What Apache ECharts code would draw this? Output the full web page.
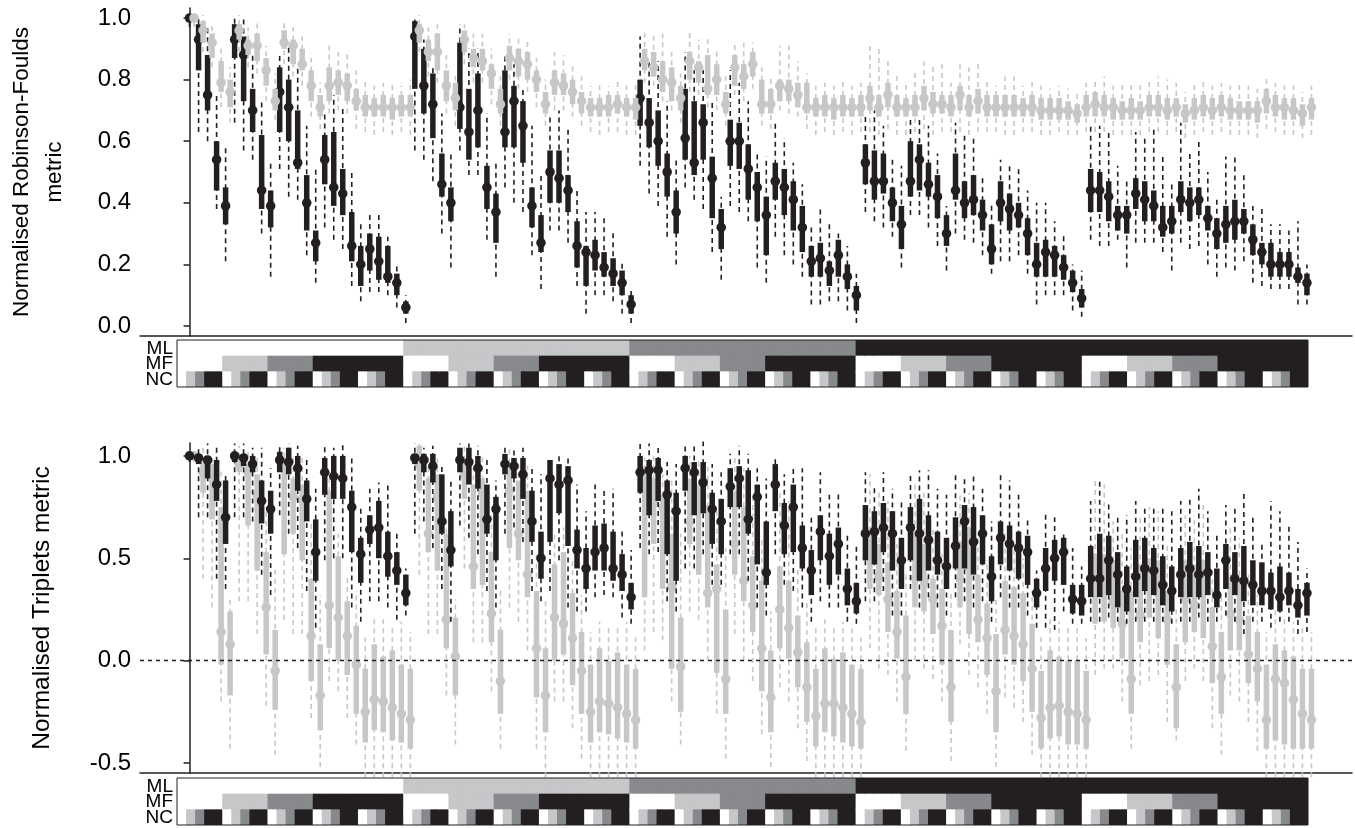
<!DOCTYPE html>
<html>
<head>
<meta charset="utf-8">
<script src="https://cdn.jsdelivr.net/npm/echarts@6/dist/echarts.min.js"></script>
<style>
  html, body { margin: 0; padding: 0; background: #fff; }
  #chart { width: 1355px; height: 828px; }
</style>
</head>
<body>
<div id="chart"></div>
<script>
// each glyph: [lo, q1, median, q3, hi]
const rfBlack = [
  [0.97,0.99,1.00,1.00,1.01],[0.63,0.83,0.93,0.98,1.00],[0.60,0.70,0.75,0.88,0.97],[0.38,0.44,0.54,0.60,0.76],[0.21,0.33,0.39,0.45,0.58],
  [0.66,0.87,0.93,0.98,1.00],[0.57,0.73,0.88,0.94,1.00],[0.54,0.63,0.70,0.77,0.89],[0.30,0.38,0.44,0.62,0.73],[0.16,0.32,0.39,0.44,0.53],
  [0.51,0.63,0.76,0.84,0.89],[0.42,0.60,0.71,0.80,0.91],[0.41,0.51,0.53,0.70,0.84],[0.23,0.31,0.40,0.49,0.65],[0.14,0.21,0.27,0.31,0.51],
  [0.32,0.46,0.54,0.62,0.70],[0.28,0.39,0.45,0.63,0.75],[0.25,0.36,0.43,0.51,0.71],[0.13,0.21,0.26,0.37,0.50],[0.08,0.13,0.20,0.26,0.34],
  [0.11,0.18,0.25,0.30,0.36],[0.11,0.15,0.21,0.29,0.36],[0.10,0.14,0.16,0.26,0.29],[0.06,0.10,0.14,0.17,0.20],[0.01,0.04,0.06,0.08,0.10],
  [0.57,0.77,0.94,0.99,1.00],[0.54,0.69,0.78,0.90,0.93],[0.47,0.61,0.72,0.82,0.85],[0.30,0.42,0.46,0.56,0.69],[0.19,0.34,0.40,0.45,0.56],
  [0.57,0.64,0.71,0.92,0.98],[0.49,0.54,0.63,0.77,0.90],[0.49,0.58,0.70,0.82,0.90],[0.28,0.38,0.45,0.52,0.69],[0.16,0.27,0.37,0.43,0.53],
  [0.45,0.58,0.63,0.83,0.88],[0.40,0.58,0.73,0.78,0.85],[0.37,0.53,0.65,0.73,0.77],[0.23,0.32,0.39,0.45,0.65],[0.12,0.24,0.27,0.36,0.50],
  [0.31,0.40,0.50,0.57,0.69],[0.31,0.40,0.48,0.57,0.70],[0.27,0.37,0.44,0.49,0.65],[0.13,0.19,0.26,0.34,0.45],[0.04,0.13,0.24,0.26,0.37],
  [0.10,0.18,0.23,0.28,0.37],[0.10,0.16,0.19,0.24,0.36],[0.08,0.13,0.17,0.22,0.31],[0.04,0.10,0.14,0.18,0.21],[0.01,0.04,0.07,0.10,0.12],
  [0.52,0.65,0.74,0.80,0.94],[0.43,0.58,0.66,0.74,0.86],[0.39,0.52,0.60,0.70,0.86],[0.29,0.42,0.50,0.56,0.73],[0.20,0.30,0.37,0.44,0.55],
  [0.45,0.54,0.61,0.77,0.89],[0.41,0.49,0.53,0.73,0.83],[0.38,0.54,0.66,0.72,0.83],[0.24,0.35,0.48,0.55,0.73],[0.15,0.25,0.32,0.38,0.42],
  [0.39,0.52,0.60,0.67,0.83],[0.37,0.51,0.60,0.66,0.79],[0.34,0.41,0.51,0.59,0.73],[0.19,0.34,0.45,0.50,0.57],[0.14,0.23,0.36,0.42,0.55],
  [0.29,0.41,0.47,0.53,0.67],[0.23,0.36,0.45,0.51,0.61],[0.20,0.31,0.41,0.47,0.53],[0.16,0.24,0.32,0.39,0.46],[0.07,0.16,0.21,0.26,0.33],
  [0.07,0.16,0.22,0.27,0.38],[0.08,0.13,0.18,0.21,0.34],[0.08,0.16,0.23,0.28,0.30],[0.05,0.12,0.16,0.20,0.26],[0.01,0.05,0.10,0.13,0.17],
  [0.37,0.46,0.53,0.59,0.69],[0.34,0.41,0.47,0.57,0.70],[0.32,0.43,0.47,0.56,0.65],[0.29,0.34,0.40,0.45,0.55],[0.19,0.25,0.33,0.39,0.52],
  [0.36,0.42,0.47,0.60,0.68],[0.36,0.44,0.54,0.59,0.68],[0.32,0.42,0.46,0.53,0.65],[0.26,0.35,0.42,0.49,0.56],[0.18,0.26,0.30,0.36,0.39],
  [0.30,0.41,0.44,0.56,0.66],[0.28,0.35,0.40,0.47,0.62],[0.27,0.36,0.41,0.49,0.62],[0.23,0.31,0.36,0.41,0.49],[0.17,0.20,0.25,0.33,0.40],
  [0.21,0.34,0.40,0.47,0.54],[0.21,0.31,0.38,0.43,0.53],[0.23,0.32,0.36,0.40,0.52],[0.17,0.23,0.30,0.35,0.44],[0.07,0.16,0.20,0.27,0.40],
  [0.10,0.16,0.24,0.28,0.40],[0.10,0.16,0.23,0.26,0.34],[0.10,0.15,0.19,0.23,0.30],[0.05,0.11,0.14,0.18,0.20],[0.03,0.06,0.09,0.12,0.18],
  [0.28,0.37,0.44,0.51,0.66],[0.26,0.37,0.44,0.50,0.65],[0.26,0.34,0.42,0.47,0.63],[0.28,0.31,0.36,0.39,0.52],[0.19,0.30,0.36,0.39,0.47],
  [0.27,0.38,0.43,0.48,0.63],[0.27,0.34,0.41,0.47,0.62],[0.27,0.34,0.39,0.44,0.64],[0.24,0.29,0.32,0.39,0.56],[0.18,0.30,0.34,0.39,0.47],
  [0.27,0.37,0.41,0.47,0.66],[0.25,0.34,0.40,0.45,0.57],[0.26,0.36,0.41,0.45,0.60],[0.20,0.31,0.35,0.39,0.50],[0.16,0.25,0.30,0.35,0.42],
  [0.19,0.27,0.33,0.39,0.55],[0.18,0.28,0.34,0.41,0.55],[0.21,0.30,0.34,0.38,0.50],[0.14,0.23,0.28,0.33,0.39],[0.13,0.20,0.24,0.27,0.38],
  [0.12,0.16,0.20,0.27,0.33],[0.12,0.16,0.20,0.24,0.33],[0.12,0.16,0.20,0.24,0.31],[0.07,0.14,0.16,0.19,0.34],[0.07,0.10,0.14,0.17,0.20]
];

const rfGrey = [
  [0.97,0.99,1.00,1.00,1.01],[0.89,0.92,0.96,0.99,1.01],[0.84,0.87,0.92,0.95,0.98],[0.71,0.76,0.79,0.86,0.90],[0.66,0.71,0.76,0.80,0.84],
  [0.89,0.93,0.96,0.98,1.01],[0.84,0.88,0.91,0.93,0.97],[0.82,0.86,0.91,0.95,0.99],[0.73,0.78,0.83,0.87,0.91],[0.67,0.70,0.73,0.77,0.82],
  [0.85,0.90,0.92,0.96,0.99],[0.81,0.85,0.91,0.93,0.97],[0.78,0.83,0.85,0.90,0.94],[0.68,0.73,0.78,0.83,0.87],[0.64,0.68,0.71,0.75,0.79],
  [0.69,0.73,0.78,0.84,0.91],[0.70,0.75,0.79,0.83,0.89],[0.69,0.73,0.78,0.82,0.89],[0.64,0.70,0.73,0.77,0.83],[0.63,0.68,0.71,0.75,0.80],
  [0.62,0.68,0.71,0.74,0.78],[0.63,0.68,0.71,0.75,0.79],[0.62,0.67,0.71,0.74,0.79],[0.63,0.68,0.71,0.75,0.78],[0.62,0.68,0.71,0.75,0.80],
  [0.89,0.92,0.96,0.98,1.01],[0.81,0.86,0.89,0.93,0.97],[0.79,0.83,0.89,0.95,0.98],[0.69,0.73,0.78,0.83,0.88],[0.65,0.70,0.74,0.79,0.82],
  [0.85,0.89,0.93,0.96,0.98],[0.79,0.84,0.87,0.90,0.95],[0.79,0.83,0.86,0.90,0.95],[0.72,0.77,0.82,0.85,0.90],[0.65,0.69,0.72,0.77,0.81],
  [0.80,0.83,0.87,0.91,0.95],[0.77,0.81,0.86,0.90,0.94],[0.76,0.80,0.85,0.89,0.93],[0.71,0.76,0.80,0.83,0.87],[0.65,0.69,0.72,0.76,0.80],
  [0.70,0.75,0.79,0.83,0.89],[0.70,0.75,0.78,0.82,0.88],[0.68,0.72,0.76,0.80,0.85],[0.65,0.69,0.73,0.76,0.81],[0.63,0.68,0.71,0.74,0.78],
  [0.62,0.68,0.71,0.74,0.79],[0.63,0.68,0.71,0.75,0.78],[0.63,0.69,0.72,0.75,0.80],[0.62,0.68,0.71,0.74,0.78],[0.62,0.67,0.71,0.74,0.79],
  [0.79,0.83,0.86,0.90,0.96],[0.78,0.81,0.84,0.89,0.95],[0.73,0.76,0.80,0.86,0.95],[0.70,0.73,0.79,0.84,0.89],[0.66,0.70,0.74,0.78,0.82],
  [0.76,0.80,0.86,0.89,0.96],[0.75,0.79,0.84,0.86,0.93],[0.71,0.75,0.77,0.88,0.94],[0.70,0.75,0.80,0.85,0.90],[0.65,0.69,0.72,0.76,0.81],
  [0.75,0.78,0.84,0.88,0.92],[0.73,0.77,0.81,0.85,0.92],[0.77,0.81,0.85,0.89,0.92],[0.65,0.69,0.72,0.80,0.84],[0.64,0.69,0.72,0.77,0.81],
  [0.70,0.73,0.78,0.80,0.91],[0.69,0.73,0.77,0.80,0.91],[0.68,0.71,0.75,0.79,0.86],[0.64,0.69,0.71,0.79,0.82],[0.62,0.68,0.71,0.74,0.78],
  [0.63,0.68,0.71,0.75,0.79],[0.62,0.67,0.71,0.74,0.78],[0.63,0.68,0.71,0.75,0.80],[0.62,0.68,0.71,0.74,0.78],[0.63,0.68,0.71,0.75,0.79],
  [0.63,0.70,0.74,0.78,0.92],[0.62,0.68,0.71,0.75,0.90],[0.64,0.71,0.75,0.79,0.87],[0.62,0.68,0.71,0.75,0.82],[0.62,0.68,0.71,0.74,0.79],
  [0.63,0.68,0.71,0.75,0.83],[0.64,0.70,0.74,0.78,0.86],[0.62,0.69,0.72,0.76,0.85],[0.63,0.69,0.72,0.75,0.85],[0.63,0.68,0.71,0.75,0.79],
  [0.63,0.70,0.75,0.78,0.85],[0.62,0.68,0.71,0.75,0.84],[0.63,0.69,0.73,0.77,0.86],[0.63,0.68,0.71,0.75,0.80],[0.63,0.68,0.71,0.75,0.78],
  [0.62,0.68,0.71,0.75,0.81],[0.62,0.68,0.71,0.75,0.81],[0.63,0.68,0.71,0.74,0.78],[0.63,0.68,0.71,0.75,0.80],[0.62,0.67,0.70,0.74,0.78],
  [0.62,0.67,0.70,0.74,0.77],[0.63,0.67,0.70,0.74,0.78],[0.62,0.67,0.70,0.73,0.77],[0.62,0.66,0.69,0.72,0.76],[0.63,0.68,0.71,0.75,0.79],
  [0.63,0.68,0.72,0.76,0.80],[0.63,0.68,0.71,0.75,0.81],[0.62,0.67,0.71,0.74,0.78],[0.62,0.67,0.70,0.73,0.79],[0.62,0.67,0.70,0.74,0.79],
  [0.62,0.67,0.70,0.73,0.79],[0.63,0.68,0.71,0.75,0.80],[0.63,0.68,0.71,0.75,0.81],[0.62,0.67,0.70,0.74,0.80],[0.63,0.68,0.71,0.74,0.79],
  [0.61,0.66,0.69,0.72,0.76],[0.62,0.67,0.70,0.74,0.79],[0.63,0.68,0.71,0.75,0.80],[0.62,0.67,0.70,0.74,0.78],[0.63,0.68,0.71,0.75,0.79],
  [0.62,0.67,0.70,0.74,0.78],[0.62,0.67,0.70,0.73,0.79],[0.62,0.67,0.70,0.73,0.78],[0.61,0.66,0.70,0.73,0.77],[0.64,0.69,0.73,0.77,0.81],
  [0.63,0.68,0.71,0.75,0.79],[0.62,0.67,0.71,0.74,0.78],[0.62,0.67,0.70,0.74,0.78],[0.61,0.65,0.69,0.72,0.76],[0.62,0.67,0.71,0.74,0.78]
];

const tripBlack = [
  [0.97,0.99,1.00,1.00,1.01],[0.70,0.96,0.99,1.00,1.04],[0.70,0.89,0.98,1.00,1.06],[0.40,0.78,0.86,0.98,1.04],[0.35,0.57,0.70,0.88,0.92],
  [0.70,0.97,1.00,1.01,1.06],[0.70,0.95,0.99,1.00,1.06],[0.68,0.92,0.96,1.00,1.04],[0.42,0.67,0.78,0.88,1.04],[0.32,0.62,0.74,0.83,0.94],
  [0.71,0.92,0.98,1.02,1.06],[0.62,0.91,0.97,1.04,1.06],[0.55,0.83,0.94,1.00,1.05],[0.34,0.68,0.79,0.88,0.99],[0.16,0.39,0.53,0.69,0.84],
  [0.49,0.81,0.92,0.99,1.05],[0.50,0.79,0.90,1.00,1.04],[0.50,0.79,0.89,1.00,1.06],[0.26,0.53,0.75,0.83,0.99],[0.19,0.38,0.52,0.60,0.76],
  [0.29,0.57,0.64,0.71,0.84],[0.29,0.50,0.65,0.78,0.87],[0.26,0.41,0.51,0.63,0.86],[0.20,0.37,0.44,0.53,0.63],[0.22,0.27,0.33,0.42,0.45],
  [0.62,0.96,0.99,1.01,1.06],[0.68,0.92,0.98,1.01,1.04],[0.55,0.87,0.95,1.01,1.05],[0.35,0.62,0.68,0.91,0.96],[0.19,0.46,0.54,0.73,0.89],
  [0.66,0.92,0.98,1.04,1.06],[0.60,0.86,0.97,1.04,1.06],[0.52,0.84,0.94,1.00,1.05],[0.34,0.62,0.69,0.86,0.99],[0.26,0.49,0.74,0.80,0.88],
  [0.62,0.91,0.96,1.01,1.05],[0.65,0.89,0.95,0.99,1.04],[0.58,0.79,0.91,0.99,1.04],[0.34,0.58,0.68,0.83,0.94],[0.29,0.40,0.50,0.63,0.91],
  [0.34,0.58,0.89,0.98,1.00],[0.49,0.72,0.86,0.96,1.01],[0.26,0.56,0.88,0.95,0.99],[0.24,0.45,0.54,0.64,0.86],[0.24,0.35,0.45,0.55,0.73],
  [0.31,0.44,0.53,0.66,0.86],[0.32,0.44,0.55,0.67,0.84],[0.31,0.39,0.45,0.63,0.84],[0.21,0.34,0.42,0.52,0.65],[0.18,0.25,0.31,0.38,0.54],
  [0.55,0.82,0.92,1.00,1.06],[0.52,0.71,0.93,0.98,1.06],[0.53,0.78,0.93,0.99,1.05],[0.29,0.52,0.81,0.88,0.97],[0.24,0.39,0.73,0.82,0.96],
  [0.45,0.83,0.94,1.00,1.05],[0.45,0.71,0.92,0.97,1.05],[0.52,0.72,0.87,0.97,1.07],[0.37,0.57,0.74,0.82,0.96],[0.37,0.52,0.68,0.79,0.92],
  [0.52,0.75,0.85,0.94,1.01],[0.52,0.75,0.89,0.95,1.05],[0.39,0.62,0.69,0.93,1.01],[0.26,0.47,0.80,0.86,0.94],[0.22,0.37,0.43,0.68,0.89],
  [0.52,0.73,0.86,0.96,1.00],[0.37,0.52,0.66,0.77,0.91],[0.34,0.53,0.75,0.86,0.94],[0.26,0.45,0.55,0.66,0.94],[0.19,0.32,0.44,0.54,0.70],
  [0.29,0.49,0.63,0.71,0.92],[0.26,0.37,0.51,0.62,0.81],[0.26,0.42,0.57,0.65,0.83],[0.19,0.27,0.35,0.45,0.63],[0.18,0.23,0.29,0.38,0.57],
  [0.29,0.49,0.62,0.76,0.92],[0.29,0.47,0.63,0.73,0.86],[0.34,0.53,0.65,0.77,0.92],[0.22,0.44,0.62,0.73,0.84],[0.22,0.35,0.49,0.60,0.78],
  [0.35,0.49,0.65,0.75,0.91],[0.26,0.39,0.62,0.79,0.93],[0.31,0.44,0.59,0.71,0.93],[0.26,0.42,0.49,0.63,0.84],[0.22,0.35,0.46,0.60,0.81],
  [0.31,0.45,0.56,0.70,0.91],[0.29,0.45,0.68,0.76,0.90],[0.26,0.42,0.58,0.75,0.90],[0.29,0.47,0.62,0.71,0.84],[0.19,0.29,0.41,0.51,0.68],
  [0.31,0.47,0.60,0.68,0.91],[0.26,0.44,0.57,0.66,0.88],[0.26,0.40,0.55,0.63,0.81],[0.22,0.37,0.53,0.61,0.70],[0.16,0.26,0.33,0.40,0.44],
  [0.16,0.34,0.45,0.55,0.73],[0.15,0.39,0.50,0.59,0.70],[0.24,0.37,0.53,0.60,0.63],[0.18,0.23,0.30,0.37,0.55],[0.18,0.22,0.29,0.37,0.46],
  [0.19,0.31,0.40,0.56,0.78],[0.19,0.31,0.40,0.62,0.88],[0.21,0.32,0.49,0.61,0.78],[0.19,0.26,0.42,0.53,0.71],[0.18,0.24,0.35,0.46,0.71],
  [0.19,0.31,0.41,0.59,0.78],[0.19,0.34,0.45,0.60,0.76],[0.19,0.32,0.44,0.55,0.75],[0.19,0.27,0.37,0.51,0.75],[0.18,0.24,0.34,0.46,0.73],
  [0.19,0.31,0.42,0.55,0.78],[0.19,0.31,0.45,0.58,0.79],[0.21,0.31,0.42,0.56,0.84],[0.19,0.32,0.43,0.53,0.73],[0.19,0.26,0.32,0.45,0.62],
  [0.22,0.35,0.49,0.57,0.76],[0.19,0.32,0.40,0.53,0.75],[0.13,0.29,0.39,0.56,0.83],[0.19,0.27,0.37,0.49,0.70],[0.19,0.27,0.34,0.48,0.57],
  [0.16,0.25,0.34,0.43,0.78],[0.19,0.24,0.31,0.46,0.73],[0.19,0.27,0.34,0.43,0.66],[0.13,0.21,0.27,0.35,0.58],[0.14,0.22,0.33,0.38,0.45]
];

const tripGrey = [
  [0.97,0.99,1.00,1.00,1.01],[0.40,0.82,0.92,0.97,1.05],[0.26,0.69,0.89,0.96,1.00],[-0.20,-0.02,0.14,0.75,0.94],[-0.43,-0.17,0.08,0.24,0.30],
  [0.29,0.92,0.96,0.99,1.05],[0.29,0.66,0.92,0.96,1.04],[0.13,0.44,0.81,0.91,1.00],[-0.22,0.03,0.26,0.53,0.75],[-0.46,-0.24,-0.05,0.15,0.45],
  [0.20,0.52,0.94,0.99,1.04],[0.13,0.62,0.80,0.89,1.00],[0.13,0.49,0.79,0.86,0.99],[-0.28,-0.10,0.12,0.40,0.68],[-0.52,-0.34,-0.17,0.08,0.32],
  [-0.10,0.06,0.27,0.83,0.89],[-0.15,0.00,0.21,0.51,0.62],[-0.28,-0.07,0.12,0.29,0.42],[-0.41,-0.26,-0.02,0.17,0.34],[-0.57,-0.40,-0.25,-0.04,0.13],
  [-0.57,-0.34,-0.19,0.08,0.22],[-0.57,-0.35,-0.20,0.02,0.21],[-0.57,-0.39,-0.23,0.05,0.16],[-0.57,-0.40,-0.26,-0.02,0.19],[-0.57,-0.43,-0.29,-0.04,0.14],
  [0.42,0.83,0.96,1.05,1.06],[0.13,0.53,0.62,0.89,1.00],[0.13,0.44,0.80,0.91,1.00],[-0.17,0.06,0.20,0.62,0.70],[-0.41,-0.17,0.02,0.21,0.30],
  [0.45,0.79,0.91,0.97,1.05],[0.09,0.35,0.46,0.86,0.94],[0.09,0.37,0.82,0.89,1.00],[-0.15,0.09,0.23,0.53,0.71],[-0.43,-0.26,-0.10,0.15,0.34],
  [0.26,0.55,0.83,0.94,1.04],[0.19,0.49,0.62,0.88,0.97],[0.05,0.31,0.42,0.83,0.96],[-0.43,-0.18,0.06,0.34,0.53],[-0.57,-0.35,-0.17,0.06,0.29],
  [-0.20,0.00,0.21,0.47,0.62],[-0.20,0.03,0.18,0.53,0.65],[-0.33,-0.12,0.11,0.33,0.49],[-0.48,-0.26,-0.05,0.14,0.32],[-0.57,-0.40,-0.25,-0.02,0.14],
  [-0.57,-0.35,-0.20,0.06,0.19],[-0.57,-0.36,-0.21,0.00,0.16],[-0.57,-0.38,-0.23,0.04,0.16],[-0.57,-0.40,-0.26,-0.02,0.19],[-0.57,-0.43,-0.29,-0.04,0.13],
  [0.05,0.31,0.84,0.95,0.99],[0.14,0.57,0.77,0.89,1.00],[0.10,0.35,0.75,0.81,0.91],[-0.20,-0.04,0.36,0.62,0.88],[-0.41,-0.25,-0.03,0.21,0.62],
  [0.24,0.57,0.68,0.89,1.00],[0.20,0.42,0.79,0.86,0.99],[0.00,0.26,0.33,0.76,0.97],[-0.26,-0.06,0.35,0.47,0.75],[-0.48,-0.26,-0.09,0.25,0.55],
  [0.13,0.42,0.57,0.83,0.99],[0.00,0.29,0.39,0.75,0.94],[-0.10,0.14,0.27,0.51,0.81],[-0.36,-0.15,0.06,0.39,0.60],[-0.52,-0.35,-0.18,0.05,0.24],
  [-0.13,0.06,0.25,0.46,0.83],[-0.20,0.01,0.16,0.39,0.78],[-0.33,-0.13,0.04,0.22,0.45],[-0.49,-0.30,-0.13,0.09,0.29],[-0.57,-0.42,-0.27,-0.04,0.16],
  [-0.57,-0.35,-0.21,0.06,0.22],[-0.57,-0.37,-0.21,0.01,0.16],[-0.57,-0.40,-0.23,0.04,0.19],[-0.57,-0.42,-0.26,-0.02,0.18],[-0.57,-0.43,-0.30,-0.04,0.13],
  [0.06,0.35,0.54,0.65,0.91],[-0.04,0.32,0.41,0.57,0.84],[-0.07,0.14,0.30,0.48,0.78],[-0.20,0.01,0.14,0.34,0.57],[-0.44,-0.26,-0.08,0.22,0.42],
  [0.00,0.26,0.40,0.63,0.88],[-0.04,0.24,0.39,0.57,0.83],[-0.09,0.13,0.30,0.40,0.65],[-0.20,-0.02,0.17,0.35,0.52],[-0.49,-0.30,-0.13,0.15,0.34],
  [0.08,0.26,0.40,0.58,0.81],[-0.07,0.13,0.46,0.65,0.82],[-0.13,0.09,0.20,0.42,0.62],[-0.26,-0.07,0.11,0.28,0.49],[-0.52,-0.35,-0.15,0.13,0.31],
  [-0.18,0.03,0.15,0.39,0.62],[-0.23,-0.02,0.12,0.36,0.57],[-0.30,-0.10,0.08,0.33,0.50],[-0.46,-0.25,-0.04,0.18,0.34],[-0.57,-0.43,-0.28,-0.05,0.13],
  [-0.57,-0.38,-0.23,0.05,0.22],[-0.57,-0.37,-0.22,0.02,0.19],[-0.57,-0.41,-0.25,0.00,0.16],[-0.57,-0.41,-0.26,0.00,0.18],[-0.57,-0.43,-0.29,-0.05,0.11],
  [-0.07,0.18,0.37,0.52,0.89],[-0.04,0.19,0.35,0.52,0.86],[-0.04,0.16,0.29,0.49,0.68],[-0.20,0.01,0.18,0.34,0.62],[-0.43,-0.26,-0.09,0.34,0.55],
  [-0.12,0.09,0.22,0.47,0.70],[-0.10,0.21,0.36,0.50,0.75],[-0.07,0.11,0.33,0.49,0.73],[-0.30,-0.02,0.20,0.34,0.58],[-0.39,-0.33,-0.13,0.08,0.27],
  [-0.10,0.09,0.30,0.49,0.71],[-0.04,0.14,0.27,0.47,0.71],[-0.10,0.11,0.34,0.49,0.76],[-0.33,-0.11,0.07,0.26,0.44],[-0.46,-0.26,-0.08,0.14,0.32],
  [-0.17,0.05,0.23,0.41,0.66],[-0.20,0.05,0.20,0.39,0.60],[-0.30,-0.11,0.03,0.22,0.42],[-0.44,-0.20,-0.04,0.14,0.32],[-0.57,-0.43,-0.29,-0.02,0.14],
  [-0.57,-0.39,-0.09,0.08,0.26],[-0.57,-0.41,-0.11,0.05,0.22],[-0.57,-0.43,-0.19,0.02,0.19],[-0.57,-0.43,-0.26,-0.04,0.16],[-0.57,-0.43,-0.29,-0.04,0.14]
];

// factor levels for the design strip: 5 levels each, last two share a shade
const levelShade = [0, 1, 2, 3, 3];
const shadeColors = ['#ffffff', '#c6c7c9', '#88898c', '#231f20'];
const stripRows = ['ML', 'MF', 'NC'];

const rfTicks = [0, 0.2, 0.4, 0.6, 0.8, 1.0];
const tripTicks = [-0.5, 0, 0.5, 1.0];

const BLACK = '#231f20';
const GREY = '#c6c7c9';
const FONT = '"Liberation Sans", Arial, Helvetica, sans-serif';

const chart = echarts.init(document.getElementById('chart'));

const stripData = [];
for (let ml = 0; ml < 5; ml++) {
  for (let mf = 0; mf < 5; mf++) {
    for (let nc = 0; nc < 5; nc++) {
      const k = ml * 25 + mf * 5 + nc;
      stripData.push([k, 0, levelShade[ml]]);
      stripData.push([k, 1, levelShade[mf]]);
      stripData.push([k, 2, levelShade[nc]]);
    }
  }
}

const glyph = (color) => (params, api) => {
  const x = api.value(0);
  const lo = api.coord([x, api.value(1)]);
  const q1 = api.coord([x, api.value(2)]);
  const md = api.coord([x, api.value(3)]);
  const q3 = api.coord([x, api.value(4)]);
  const hi = api.coord([x, api.value(5)]);
  return {
    type: 'group',
    children: [
      { type: 'line', shape: { x1: lo[0], y1: lo[1], x2: hi[0], y2: hi[1] },
        style: { stroke: color, lineWidth: 1.6, lineDash: [5, 4] } },
      { type: 'line', shape: { x1: q1[0], y1: q1[1], x2: q3[0], y2: q3[1] },
        style: { stroke: color, lineWidth: 5.5 } },
      { type: 'circle', shape: { cx: md[0], cy: md[1], r: 4.8 },
        style: { fill: color } }
    ]
  };
};

const stripCell = (params, api) => {
  const k = api.value(0);
  const row = api.value(1);
  const p0 = api.coord([k, row]);
  const p1 = api.coord([k + 1, row]);
  const h = api.size([1, 1])[1];
  const last = k === 124;
  return {
    type: 'rect',
    shape: { x: p0[0], y: p0[1] - h / 2, width: p1[0] - p0[0] + (last ? 0 : 1), height: h + (row < 2 ? 1 : 0) },
    style: { fill: shadeColors[api.value(2)] }
  };
};

const valueAxisX = (gridIndex) => ({
  type: 'value', gridIndex, min: -5.5, max: 129,
  axisLine: { show: true, onZero: false, lineStyle: { color: BLACK, width: 1.5 } },
  axisTick: { show: false }, axisLabel: { show: false }, splitLine: { show: false }
});

const stripAxisX = (gridIndex) => ({
  type: 'value', gridIndex, min: 0, max: 125,
  axisLine: { show: false }, axisTick: { show: false }, axisLabel: { show: false }, splitLine: { show: false }
});

const yAxisCommon = {
  type: 'value',
  axisLine: { show: true, lineStyle: { color: BLACK, width: 1.5 } },
  axisTick: { show: true, length: 6, lineStyle: { color: BLACK, width: 1.5 } },
  axisLabel: { color: '#000', fontSize: 24, fontFamily: FONT, margin: 9,
    formatter: (v) => v.toFixed(1) },
  splitLine: { show: false }
};

const grids = [
  { left: 140, top: 8, width: 1212, height: 328 },
  { left: 177, top: 340, width: 1131, height: 47, show: true, z: 10,
    borderColor: BLACK, borderWidth: 1, backgroundColor: 'transparent' },
  { left: 140, top: 443, width: 1212, height: 330 },
  { left: 177, top: 778, width: 1131, height: 47, show: true, z: 10,
    borderColor: BLACK, borderWidth: 1, backgroundColor: 'transparent' }
];

const option = {
  backgroundColor: '#fff',
  animation: false,
  grid: grids,
  xAxis: [valueAxisX(0), stripAxisX(1), valueAxisX(2), stripAxisX(3)],
  yAxis: [
    Object.assign({}, yAxisCommon, { gridIndex: 0, min: -0.0325, max: 1.0325,
      axisTick: Object.assign({}, yAxisCommon.axisTick, { customValues: rfTicks }),
      axisLabel: Object.assign({}, yAxisCommon.axisLabel, { customValues: rfTicks }) }),
    { type: 'category', gridIndex: 1, data: stripRows, inverse: true,
      axisLine: { show: false }, axisTick: { show: false }, axisLabel: { show: false } },
    Object.assign({}, yAxisCommon, { gridIndex: 2, min: -0.549, max: 1.063,
      axisTick: Object.assign({}, yAxisCommon.axisTick, { customValues: tripTicks }),
      axisLabel: Object.assign({}, yAxisCommon.axisLabel, { customValues: tripTicks }) }),
    { type: 'category', gridIndex: 3, data: stripRows, inverse: true,
      axisLine: { show: false }, axisTick: { show: false }, axisLabel: { show: false } }
  ],
  series: [
    { type: 'custom', name: 'rf-black', xAxisIndex: 0, yAxisIndex: 0, z: 3,
      renderItem: glyph(BLACK), encode: { x: 0, y: [1, 2, 3, 4, 5] },
      data: rfBlack.map((d, i) => [i].concat(d)) },
    { type: 'custom', name: 'rf-grey', xAxisIndex: 0, yAxisIndex: 0, z: 4,
      renderItem: glyph(GREY), encode: { x: 0, y: [1, 2, 3, 4, 5] },
      data: rfGrey.map((d, i) => [i + 0.5].concat(d)) },
    { type: 'custom', name: 'strip-top', xAxisIndex: 1, yAxisIndex: 1,
      renderItem: stripCell, data: stripData },
    { type: 'custom', name: 'trip-grey', xAxisIndex: 2, yAxisIndex: 2, z: 3,
      renderItem: glyph(GREY), encode: { x: 0, y: [1, 2, 3, 4, 5] },
      data: tripGrey.map((d, i) => [i + 0.5].concat(d)),
      markLine: { silent: true, symbol: 'none', label: { show: false },
        lineStyle: { color: BLACK, type: [4, 4], width: 1.3 },
        data: [{ yAxis: 0 }] } },
    { type: 'custom', name: 'trip-black', xAxisIndex: 2, yAxisIndex: 2, z: 4,
      renderItem: glyph(BLACK), encode: { x: 0, y: [1, 2, 3, 4, 5] },
      data: tripBlack.map((d, i) => [i].concat(d)) },
    { type: 'custom', name: 'strip-bottom', xAxisIndex: 3, yAxisIndex: 3,
      renderItem: stripCell, data: stripData }
  ],
  graphic: [
    { type: 'text', x: 22, y: 172, rotation: Math.PI / 2,
      style: { text: 'Normalised Robinson-Foulds', font: '22.5px ' + FONT, fill: '#000',
        textAlign: 'center', textVerticalAlign: 'middle' } },
    { type: 'text', x: 55, y: 172, rotation: Math.PI / 2,
      style: { text: 'metric', font: '22.5px ' + FONT, fill: '#000',
        textAlign: 'center', textVerticalAlign: 'middle' } },
    { type: 'text', x: 42, y: 608, rotation: Math.PI / 2,
      style: { text: 'Normalised Triplets metric', font: '24.5px ' + FONT, fill: '#000',
        textAlign: 'center', textVerticalAlign: 'middle' } }
  ].concat(
    [340, 778].flatMap((top) => stripRows.map((lab, r) => ({
      type: 'text', x: 173, y: top + 8.5 + r * 15.5,
      style: { text: lab, font: '19px ' + FONT, fill: '#000',
        textAlign: 'right', textVerticalAlign: 'middle' }
    })))
  )
};

chart.setOption(option);
</script>
</body>
</html>
